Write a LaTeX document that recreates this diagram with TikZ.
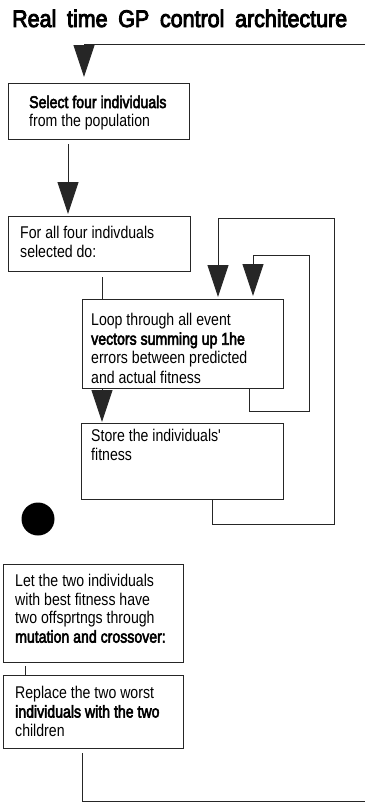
\documentclass[tikz,border=0pt]{standalone}
\usepackage{fontspec}
\usepackage{graphicx}
\setmainfont{Liberation Sans}
% bold is drawn as an emboldened regular face, which keeps the narrow widths
\newfontfamily\bodyfont[BoldFont={Liberation Sans}, BoldFeatures={FakeBold=3.5}]{Liberation Sans}
\newfontfamily\titlefont[BoldFont={Liberation Sans}, BoldFeatures={FakeBold=4}]{Liberation Sans}
\usetikzlibrary{arrows.meta}
% multi-line box text, condensed, whose baseline is the first line
\newcommand\boxtext[1]{\scalebox{0.83}[1]{\begin{tabular}[t]{@{}l@{}}#1\end{tabular}}}
\begin{document}
\begin{tikzpicture}[x=1pt,y=-1pt,
  box/.style={draw=black!85, line width=1.1pt, rectangle, inner sep=0pt, anchor=north west},
  txt/.style={inner sep=0pt, anchor=base west, font=\bodyfont\fontsize{17}{19}\selectfont},
  link/.style={draw=black!85, line width=0.9pt},
  flow/.style={link, -{Triangle[width=21pt,length=32pt]}},
]
\useasboundingbox (0,0) rectangle (365,803);

% title
\node[inner sep=0pt, anchor=base west, font=\titlefont\bfseries\fontsize{24}{28}\selectfont] (title) at (12,27)
  {\resizebox{335pt}{\height}{\spaceskip=12pt Real time GP control architecture}};

% boxes
\node[box, minimum width=181pt, minimum height=56pt] (b1) at (8,83) {};
\node[box, minimum width=182pt, minimum height=55pt] (b2) at (8,216) {};
\node[box, minimum width=201pt, minimum height=89pt] (b3) at (82,299) {};
\node[box, minimum width=202pt, minimum height=76pt] (b4) at (81,423) {};
\node[box, minimum width=180pt, minimum height=98pt] (b5) at (3,564) {};
\node[box, minimum width=180pt, minimum height=73pt] (b6) at (3,675) {};

% box texts
\node[txt, font=\bodyfont\fontsize{17}{18}\selectfont] (t1) at (29,108)
  {\boxtext{\textbf{Select four individuals}\\ from the population}};
\node[txt] (t2) at (20,238.5)
  {\boxtext{For all four indivduals\\ selected do:}};
\node[txt, font=\bodyfont\fontsize{17}{19.2}\selectfont] (t3) at (91,325.5)
  {\boxtext{Loop through all event\\ \textbf{vectors summing up 1he}\\ errors between predicted\\ and actual fitness}};
\node[txt] (t4) at (91,441.5)
  {\boxtext{Store the individuals'\\ fitness}};
\node[txt, font=\bodyfont\fontsize{17}{18.7}\selectfont] (t5) at (15,586.5)
  {\boxtext{Let the two individuals\\ with best fitness have\\ two offsprtngs through\\ \textbf{mutation and crossover:}}};
\node[txt] (t6) at (15,698.5)
  {\boxtext{Replace the two worst\\ \textbf{individuals with the two}\\ children}};

% black dot
\node[circle, fill=black, inner sep=0pt, minimum size=33pt] (dot) at (38,519) {};

% loose ends and corners
\coordinate (entry) at (365,44);
\coordinate (exit) at (365,801);
\coordinate (il1) at (309,411);
\coordinate (il2) at (253,255);
\coordinate (ol1) at (334,524);
\coordinate (ol2) at (218,218);

% connectors
\draw[flow, shorten >=6pt] (entry) -| ([xshift=76pt]b1.north west);
\draw[flow, shorten <=4pt, shorten >=2pt] ([xshift=60pt]b1.south west) -- ([xshift=60pt]b2.north west);
\draw[link, shorten <=5pt] ([xshift=94pt]b2.south west) -- ([xshift=20pt]b3.north west);
\draw[flow, shorten >=1pt] ([xshift=20pt]b3.south west) -- ([xshift=21pt]b4.north west);
\draw[flow, shorten >=3pt] ([xshift=167pt]b3.south west) |- (il1) |- (il2) -- ([xshift=171pt]b3.north west);
\draw[flow, shorten >=2pt] ([xshift=131pt]b4.south west) |- (ol1) |- (ol2) -- ([xshift=136pt]b3.north west);
\draw[link, shorten <=3pt] ([xshift=22pt]b5.south west) -- ([xshift=22pt]b6.north west);
\draw[link, shorten <=4pt] ([xshift=79pt]b6.south west) |- (exit);
\end{tikzpicture}
\end{document}
